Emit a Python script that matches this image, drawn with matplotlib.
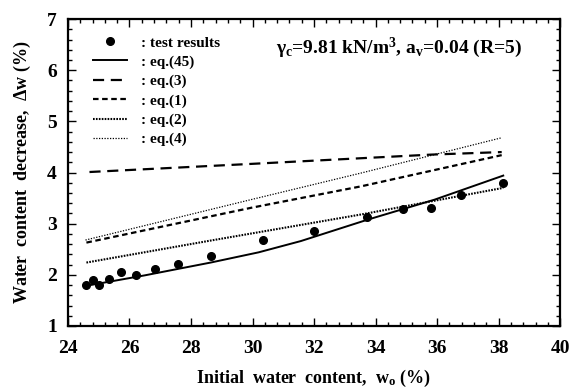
import matplotlib
matplotlib.use('Agg')
import matplotlib.pyplot as plt
from matplotlib.ticker import MultipleLocator

plt.rcParams['font.family'] = 'Liberation Serif'
plt.rcParams['font.weight'] = 'bold'
plt.rcParams['axes.labelweight'] = 'bold'
plt.rcParams['mathtext.fontset'] = 'custom'
plt.rcParams['mathtext.rm'] = 'Liberation Serif:bold'
plt.rcParams['mathtext.it'] = 'Liberation Serif:bold'
plt.rcParams['mathtext.bf'] = 'Liberation Serif:bold'

# test results
test_w0 = [24.60, 24.82, 25.01, 25.32, 25.74, 26.20, 26.82, 27.59, 28.65,
           30.33, 31.99, 33.73, 34.89, 35.81, 36.79, 38.15]
test_dw = [1.80, 1.90, 1.80, 1.92, 2.06, 1.99, 2.11, 2.21, 2.37,
           2.69, 2.86, 3.14, 3.28, 3.30, 3.57, 3.80]

# eq.(45)
eq45_w0 = [24.73, 26.5, 28.64, 30.2, 31.57, 33.75, 35.92, 38.15]
eq45_dw = [1.80, 1.99, 2.24, 2.44, 2.66, 3.08, 3.47, 3.94]
# eq.(3)
eq3_w0 = [24.70, 30.0, 35.8, 38.1]
eq3_dw = [4.01, 4.17, 4.35, 4.40]
# eq.(1)
eq1_w0 = [24.60, 29.95, 33.53, 38.1]
eq1_dw = [2.63, 3.31, 3.73, 4.34]
# eq.(2)
eq2_w0 = [24.60, 28.64, 33.53, 38.15]
eq2_dw = [2.24, 2.67, 3.18, 3.70]
# eq.(4)
eq4_w0 = [24.57, 29.95, 33.53, 38.1]
eq4_dw = [2.68, 3.47, 3.99, 4.68]

fig = plt.figure(figsize=(5.71, 3.89), dpi=100)
ax = fig.add_axes([0.119, 0.162, 0.862, 0.789])

ax.plot(test_w0, test_dw, 'o', color='black', markersize=5.5, label=': test results')
ax.plot(eq45_w0, eq45_dw, '-', color='black', lw=1.4, label=': eq.(45)')
ax.plot(eq3_w0, eq3_dw, color='black', lw=1.6, dashes=(5, 3), label=': eq.(3)')
ax.plot(eq1_w0, eq1_dw, color='black', lw=1.6, dashes=(2.5, 1.6), label=': eq.(1)')
ax.plot(eq2_w0, eq2_dw, color='black', lw=1.5, dashes=(0.8, 0.6), label=': eq.(2)')
ax.plot(eq4_w0, eq4_dw, color='black', lw=0.9, dashes=(1, 1.2), label=': eq.(4)')

ax.set_xlim(24, 40)
ax.set_ylim(1, 7)
ax.xaxis.set_major_locator(MultipleLocator(2))
ax.xaxis.set_minor_locator(MultipleLocator(0.4))
ax.yaxis.set_major_locator(MultipleLocator(1))
ax.yaxis.set_minor_locator(MultipleLocator(0.2))
ax.tick_params(which='both', direction='in', top=True, right=True, width=1.0)
ax.tick_params(which='major', length=6, labelsize=14)
ax.tick_params(which='minor', length=3)
ax.tick_params(axis='x', which='major', pad=10)
ax.tick_params(axis='y', which='major', pad=8)
for s in ax.spines.values():
    s.set_linewidth(1.6)

ax.set_xlabel('Initial  water  content,  w$_\\mathrm{o}$ (%)', fontsize=13, labelpad=8)
ax.set_ylabel('Water  content  decrease,  $\\Delta$w (%)', fontsize=13, labelpad=10)

ax.text(0.673, 0.905, r'$\gamma_\mathrm{c}$=9.81 kN/m$^\mathrm{3}$, a$_\mathrm{v}$=0.04 (R=5)',
        transform=ax.transAxes, ha='center', va='center', fontsize=14)

ax.legend(loc='upper left', bbox_to_anchor=(0.03, 0.98), frameon=False, fontsize=11,
          handlelength=2.2, handletextpad=0.9, labelspacing=0.36, numpoints=1,
          borderpad=0.2)

fig.savefig('out.png', dpi=100)
